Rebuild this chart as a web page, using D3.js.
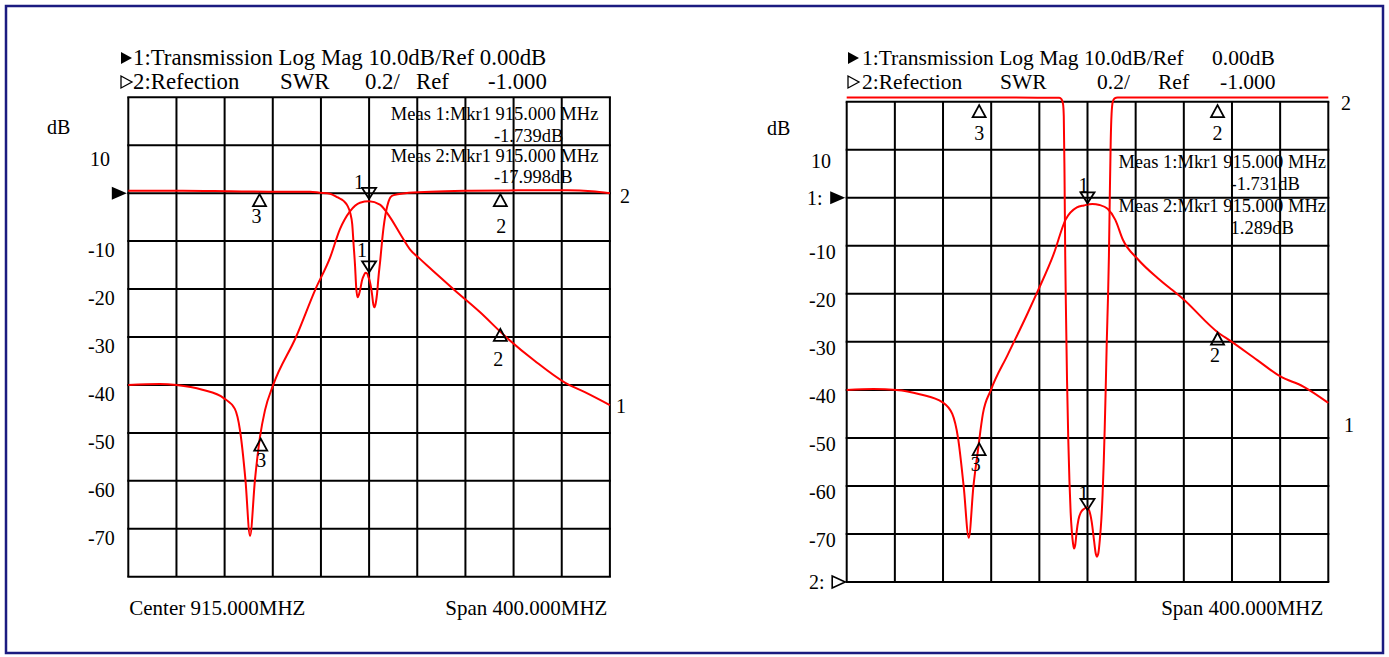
<!DOCTYPE html>
<html><head><meta charset="utf-8">
<script src="https://cdn.jsdelivr.net/npm/d3@7"></script>
<style>
body{margin:0;background:#fff}
svg{display:block}
text{font-family:"Liberation Serif","Times New Roman",Times,serif;fill:#000}
</style>
</head><body>
<svg id="c" width="1389" height="657"></svg>
<script>
// ---------------- DATA ----------------
const CENTER_MHZ = 915, SPAN_MHZ = 400;
const freqStart = CENTER_MHZ - SPAN_MHZ / 2, freqStop = CENTER_MHZ + SPAN_MHZ / 2;
const dbTop = 20, dbBottom = -80, dbPerDiv = 10;
const yTickValues = [10, -10, -20, -30, -40, -50, -60, -70];
const yTickLabels = ["10", "-10", "-20", "-30", "-40", "-50", "-60", "-70"];

// Left panel, trace 1 (transmission, dB)
const leftT1Freq = [715, 741, 755, 776.5, 794.5, 803.5, 807.8, 812.3, 816.1, 820.2, 824.4, 828.5, 835.2, 854.3, 870.5, 882.5, 890.8, 899.1, 907.4, 915, 924, 932.3, 940.6, 948.9, 957.2, 965.5, 973.8, 986.3, 1007, 1027.8, 1052.7, 1077.6, 1094.2, 1115];
const leftT1Db   = [-40, -39.8, -40, -41, -42.8, -45, -49.5, -59.8, -71.5, -59.8, -50.8, -45.3, -40.1, -30, -20, -13.5, -7.5, -3.8, -2, -1.7, -2.4, -5, -8.4, -11.7, -13.7, -15.6, -17.5, -20.3, -24.8, -29.8, -35, -39.5, -41.5, -44.2];

// Left panel, trace 2 (reflection, shown on the dB grid)
const leftT2Freq = [715, 760, 800, 840, 866, 874, 882.5, 889, 893.8, 897, 899.4, 901, 902.1, 903.3, 904.3, 905.4, 906.5, 907.7, 909, 910.4, 912, 913.2, 914.6, 915.4, 916.5, 917.4, 918.5, 919.3, 920.3, 921.6, 922.8, 924.3, 925.7, 927.1, 928.5, 929.9, 931.2, 932.6, 935.4, 945, 966, 1000, 1050, 1080, 1100, 1115];
const leftT2Db   = [0.5, 0.5, 0.4, 0.3, 0.3, 0.1, -0.1, -0.9, -1.6, -2.6, -4.2, -6.5, -10.6, -15, -19.7, -21.7, -21.2, -20, -18.3, -17.3, -16.6, -16.7, -17.6, -18.2, -19.5, -21, -23.2, -23.8, -23.2, -21, -17.5, -13.9, -10.2, -7, -4.6, -2.9, -1.7, -0.9, -0.4, 0, 0.3, 0.5, 0.6, 0.6, 0.4, 0];

// Right panel, trace 1 (transmission, dB)
const rightT1Freq = [715, 737.3, 756.4, 775.6, 794.7, 802.7, 807.4, 812.2, 816.4, 820.2, 824, 828.1, 834.8, 848.9, 864.8, 873, 887.1, 896.7, 906.2, 912, 919, 925, 931.7, 938.1, 944.5, 957.2, 973.2, 984.3, 992.3, 1024.2, 1033.7, 1056, 1075.2, 1094.3, 1115];
const rightT1Db   = [-40, -39.8, -40, -40.9, -42.6, -45, -49.9, -60.2, -70.8, -60.2, -52.6, -45, -40, -32.6, -24.3, -19.8, -11.6, -4.6, -2, -1.6, -1.3, -1.5, -2.3, -4.6, -8.8, -12.9, -16.7, -19, -20.6, -28.2, -29.8, -33.8, -37.2, -39.3, -42.7];

// Right panel, trace 2 (reflection, shown on the dB grid; off-scale above top)
const rightT2Freq = [715, 850, 891.5, 893.5, 894.7, 895.3, 895.9, 896.5, 897.2, 898, 899, 900, 901, 902, 903, 903.8, 904.8, 906, 907.5, 909.5, 912, 914.5, 916.5, 918.5, 920.5, 921.8, 922.8, 924, 925.3, 926.5, 927.5, 928.5, 929.3, 930.1, 931, 932, 932.8, 933.5, 934.3, 935, 936, 937.5, 940, 1115];
const rightT2Db   = [20.9, 20.9, 20.8, 20.5, 19.5, 17, 5, -12, -25, -38, -50, -59, -65.5, -69.5, -72, -73, -72.3, -69.5, -67, -65.5, -64.8, -64.5, -65.2, -67.5, -71.5, -74, -74.7, -74, -71, -67, -62, -55, -48, -40, -30, -21, -12, 0, 12, 17.5, 20, 20.7, 20.9, 20.9];

// Markers: trace, label, frequency (MHz), value at the marker point, direction
const leftMarkerTrace = [2, 2, 1, 2, 1, 1];
const leftMarkerLabel = ["3", "2", "1", "1", "3", "2"];
const leftMarkerFreq  = [824, 1024, 915, 915, 825, 1024];
const leftMarkerValue = [-0.2, -0.2, -1.2, -16.5, -51.2, -28.3];
const leftMarkerDir   = ["up", "up", "down", "down", "up", "up"];

const rightMarkerTrace = [2, 2, 1, 2, 1, 1];
const rightMarkerLabel = ["3", "2", "1", "1", "3", "2"];
const rightMarkerFreq  = [825, 1023, 915, 915, 825, 1023];
const rightMarkerValue = [19.3, 19.3, -1.15, -65.0, -51.1, -28.1];
const rightMarkerDir   = ["up", "up", "down", "down", "up", "up"];

// Texts
const leftTitle1 = ["1:Transmission Log Mag 10.0dB/Ref 0.00dB"];
const rightTitle1 = ["1:Transmission Log Mag 10.0dB/Ref", "0.00dB"];
const title2 = ["2:Refection", "SWR", "0.2/", "Ref", "-1.000"];
const leftMeas = ["Meas 1:Mkr1 915.000 MHz", "-1.739dB", "Meas 2:Mkr1 915.000 MHz", "-17.998dB"];
const rightMeas = ["Meas 1:Mkr1 915.000 MHz", "-1.731dB", "Meas 2:Mkr1 915.000 MHz", "1.289dB"];
const leftFooter = ["Center 915.000MHZ", "Span 400.000MHZ"];
const rightFooter = ["Span 400.000MHZ"];
const unitLabel = "dB";

// ---------------- LAYOUT / STYLE ----------------
const RED = "#ff0000";
const panels = [
  {
    x0: 128.3, x1: 609.9, y0: 97.3, y1: 576.7,
    t1: d3.zip(leftT1Freq, leftT1Db), t2: d3.zip(leftT2Freq, leftT2Db),
    markers: leftMarkerLabel.map((l, i) => ({trace: leftMarkerTrace[i], label: l, f: leftMarkerFreq[i], v: leftMarkerValue[i], dir: leftMarkerDir[i]})),
    markerLabelOff: [[-3, 28.7], [1, 38.5], [-10, -10], [-7, -15], [0.5, 28.4], [-2, 36.7]],
    tickX: 88, tickDy: 16, refPrefix: null,
    unitX: 47, unitY: 133.5,
    title1: leftTitle1, title1X: [133], titleSize: 22.8,
    title2X: [133, 280, 365, 416, 488],
    titleMarkX: 121,
    meas: leftMeas, measX: [390.8, 493.9, 390.8, 493.9], measY: [120, 141.7, 162, 183.3],
    footer: leftFooter, footerX: [129.3, 607.4], footerAnchor: ["start", "end"], footerY: 615,
    traceLabelX: [620, 616], traceLabelY: [203, 413] // "2", "1"
  },
  {
    x0: 846.7, x1: 1328.3, y0: 101.7, y1: 582,
    t1: d3.zip(rightT1Freq, rightT1Db), t2: d3.zip(rightT2Freq, rightT2Db),
    markers: rightMarkerLabel.map((l, i) => ({trace: rightMarkerTrace[i], label: l, f: rightMarkerFreq[i], v: rightMarkerValue[i], dir: rightMarkerDir[i]})),
    markerLabelOff: [[0, 34.7], [0, 34.7], [-4, -11.6], [-4, -10], [-3.4, 27.4], [-2.6, 29]],
    tickX: 809, tickDy: 13.5, refPrefix: ["1:", "2:"],
    unitX: 767, unitY: 135,
    title1: rightTitle1, title1X: [862, 1212], titleSize: 21.5,
    title2X: [862, 1000, 1097, 1158, 1220],
    titleMarkX: 848,
    meas: rightMeas, measX: [1118.4, 1230.5, 1118.4, 1230.5], measY: [168.3, 190, 212, 234],
    footer: rightFooter, footerX: [1323.3], footerAnchor: ["end"], footerY: 615,
    traceLabelX: [1341, 1344], traceLabelY: [110, 432]
  }
];

const svg = d3.select("#c");
svg.append("rect").attr("x", 6).attr("y", 6).attr("width", 1377).attr("height", 647)
  .attr("fill", "none").attr("stroke", "#1b1b80").attr("stroke-width", 2.5);

panels.forEach((p, pi) => {
  const x = d3.scaleLinear().domain([freqStart, freqStop]).range([p.x0, p.x1]);
  const y = d3.scaleLinear().domain([dbBottom, dbTop]).range([p.y1, p.y0]);
  const g = svg.append("g");

  // grid
  const gx = d3.range(0, 11).map(i => freqStart + i * SPAN_MHZ / 10);
  const gy = d3.range(0, 11).map(i => dbBottom + i * dbPerDiv);
  g.selectAll("line.gx").data(gx).join("line").attr("class", "gx")
    .attr("x1", d => x(d)).attr("x2", d => x(d)).attr("y1", y(dbTop)).attr("y2", y(dbBottom))
    .attr("stroke", "#000").attr("stroke-width", 2);
  g.selectAll("line.gy").data(gy).join("line").attr("class", "gy")
    .attr("y1", d => y(d)).attr("y2", d => y(d)).attr("x1", x(freqStart) - 1).attr("x2", x(freqStop) + 1)
    .attr("stroke", "#000").attr("stroke-width", 2);

  // traces
  const line = d3.line().x(d => x(d[0])).y(d => y(d[1])).curve(d3.curveMonotoneX);
  [p.t1, p.t2].forEach(t => {
    g.append("path").attr("d", line(t)).attr("fill", "none").attr("stroke", RED)
      .attr("stroke-width", 2).attr("stroke-linejoin", "round");
  });

  // markers
  p.markers.forEach((m, i) => {
    const mx = x(m.f), my = y(m.v);
    const pts = m.dir === "up"
      ? [[mx, my], [mx - 6.5, my + 12], [mx + 6.5, my + 12]]
      : [[mx, my], [mx - 7, my - 11], [mx + 7, my - 11]];
    g.append("path").attr("d", "M" + pts.map(q => q.join(",")).join("L") + "Z")
      .attr("fill", "none").attr("stroke", "#000").attr("stroke-width", 1.8).attr("stroke-linejoin", "miter");
    const off = p.markerLabelOff[i];
    g.append("text").attr("x", mx + off[0]).attr("y", my + off[1]).attr("text-anchor", "middle")
      .attr("font-size", 20).text(m.label);
  });

  // y tick labels
  yTickValues.forEach((v, i) => {
    g.append("text").attr("x", p.tickX + (v > 0 ? 2 : 0)).attr("y", y(v) + p.tickDy + (v > 0 ? 5 : 0))
      .attr("font-size", 20).text(yTickLabels[i]);
  });

  // reference markers
  const y0 = y(0);
  const tipX = x(freqStart) - 1.5;
  g.append("path").attr("d", `M${tipX},${y0}L${tipX - 15},${y0 - 6.5}L${tipX - 15},${y0 + 6.5}Z`).attr("fill", "#000");
  if (p.refPrefix) {
    g.append("text").attr("x", 807).attr("y", y0 + 7).attr("font-size", 20).text(p.refPrefix[0]);
    const yb = y(dbBottom);
    g.append("path").attr("d", `M${tipX},${yb}L${tipX - 13},${yb - 6}L${tipX - 13},${yb + 6}Z`)
      .attr("fill", "#fff").attr("stroke", "#000").attr("stroke-width", 1.6);
    g.append("text").attr("x", 809).attr("y", yb + 7).attr("font-size", 20).text(p.refPrefix[1]);
  }

  // unit
  g.append("text").attr("x", p.unitX).attr("y", p.unitY).attr("font-size", 20).text(unitLabel);

  // titles
  const tm = p.titleMarkX;
  g.append("path").attr("d", `M${tm},52 L${tm + 11},58 L${tm},64 Z`).attr("fill", "#000");
  p.title1.forEach((t, i) => g.append("text").attr("x", p.title1X[i]).attr("y", 65).attr("font-size", p.titleSize).text(t));
  g.append("path").attr("d", `M${tm},76 L${tm + 11},82 L${tm},88 Z`).attr("fill", "none").attr("stroke", "#000").attr("stroke-width", 1.3);
  title2.forEach((t, i) => g.append("text").attr("x", p.title2X[i]).attr("y", 89).attr("font-size", p.titleSize).text(t));

  // measurement readouts
  p.meas.forEach((t, i) => g.append("text").attr("x", p.measX[i]).attr("y", p.measY[i]).attr("font-size", 18.5).text(t));

  // footer
  p.footer.forEach((t, i) => g.append("text").attr("x", p.footerX[i]).attr("y", p.footerY)
    .attr("text-anchor", p.footerAnchor[i]).attr("font-size", 21).text(t));

  // trace labels
  ["2", "1"].forEach((t, i) => g.append("text").attr("x", p.traceLabelX[i]).attr("y", p.traceLabelY[i]).attr("font-size", 20).text(t));
});
</script>
</body></html>
